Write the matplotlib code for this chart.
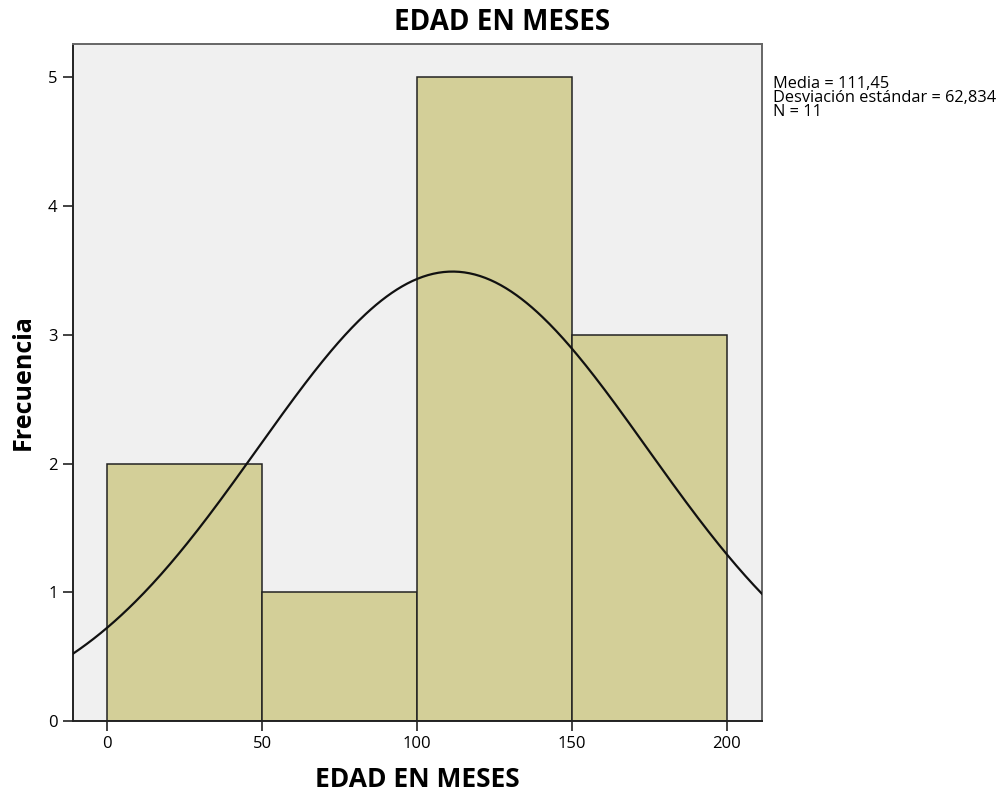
import numpy as np
import matplotlib.pyplot as plt

# Frequency table for age in months
bin_edges = [0, 50, 100, 150, 200]
counts = [2, 1, 5, 3]
media = 111.45
desv = 62.834
n = 11

plt.rcParams['font.family'] = ['Open Sans', 'DejaVu Sans']

fig = plt.figure(figsize=(10.05, 7.96), dpi=100)
ax = fig.add_axes([0.0726, 0.0942, 0.6856, 0.8505])
ax.set_facecolor('#f0f0f0')

widths = np.diff(bin_edges)
ax.bar(bin_edges[:-1], counts, width=widths, align='edge',
       color='#d3cf98', edgecolor='#222222', linewidth=1.1, zorder=2)

# Normal curve scaled to counts
x = np.linspace(-11, 212, 400)
bw = widths[0]
y = n * bw * np.exp(-0.5 * ((x - media) / desv) ** 2) / (desv * np.sqrt(2 * np.pi))
ax.plot(x, y, color='#111111', linewidth=1.6, zorder=3)

ax.set_xlim(-11, 211.3)
ax.set_ylim(0, 5.26)
ax.set_xticks([0, 50, 100, 150, 200])
ax.set_yticks([0, 1, 2, 3, 4, 5])
ax.tick_params(direction='out', length=7, width=1.2, color='#222222',
               labelsize=12, pad=4)

for side in ['left', 'bottom']:
    ax.spines[side].set_color('#222222')
    ax.spines[side].set_linewidth(1.4)
for side in ['top', 'right']:
    ax.spines[side].set_color('#666666')
    ax.spines[side].set_linewidth(1.4)

fig.text(0.5, 0.972, 'EDAD EN MESES', fontsize=20, fontweight='bold',
         ha='center', va='center')
ax.set_xlabel('EDAD EN MESES', fontsize=19, fontweight='bold', labelpad=10)
ax.set_ylabel('Frecuencia', fontsize=18, fontweight='bold', labelpad=9)

stats = f'Media = {media:.2f}'.replace('.', ',') + '\n' + \
        f'Desviación estándar = {desv:.3f}'.replace('.', ',') + '\n' + \
        f'N = {n}'
fig.text(0.769, 0.905, stats, fontsize=11.8, va='top', ha='left',
         linespacing=0.85)

fig.savefig('out.png', dpi=100)
